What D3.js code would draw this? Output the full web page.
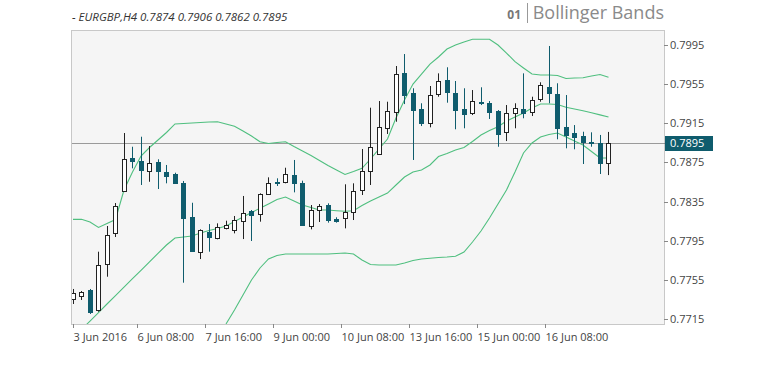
<!DOCTYPE html>
<html><head><meta charset="utf-8">
<script src="https://cdn.jsdelivr.net/npm/d3@7"></script>
<style>body{margin:0;background:#fff;overflow:hidden}text{font-family:"Open Sans",sans-serif}</style>
</head><body><svg id="c" width="766" height="365"></svg>
<script>
const title = "- EURGBP,H4 0.7874 0.7906 0.7862 0.7895";
const indicatorNo = "01";
const indicatorName = "Bollinger Bands";
const opens  = [0.77357,0.77387,0.77448,0.77245,0.77714,0.78029,0.78458,0.78797,0.78767,0.78662,0.78756,0.78654,0.78628,0.78542,0.7819,0.77839,0.78037,0.77975,0.78077,0.7806,0.78152,0.78254,0.78223,0.78427,0.78552,0.78546,0.78621,0.78542,0.78101,0.78264,0.78315,0.78169,0.78179,0.78247,0.78468,0.78662,0.78835,0.79097,0.79266,0.79657,0.79454,0.79294,0.79148,0.79446,0.79589,0.7946,0.79294,0.7925,0.79368,0.79352,0.79273,0.79062,0.7925,0.79297,0.79266,0.79396,0.79521,0.79446,0.79107,0.79046,0.79021,0.7896,0.78944,0.7874];
const highs  = [0.77459,0.77438,0.77459,0.77839,0.78101,0.78335,0.79049,0.78909,0.79011,0.78916,0.78781,0.78723,0.78644,0.7856,0.78338,0.78067,0.78121,0.78128,0.78155,0.78203,0.78407,0.78264,0.78434,0.78597,0.78587,0.78695,0.78774,0.78563,0.78315,0.78325,0.78332,0.7819,0.78526,0.78536,0.78886,0.79307,0.79375,0.79368,0.79732,0.79854,0.79505,0.79352,0.79528,0.79657,0.79719,0.79579,0.79505,0.79487,0.79515,0.79375,0.79283,0.79334,0.79352,0.79657,0.79419,0.79566,0.79936,0.79556,0.79436,0.7913,0.79062,0.79056,0.79029,0.7906];
const lows   = [0.77306,0.77347,0.77204,0.77227,0.77584,0.77989,0.78447,0.78689,0.78519,0.78552,0.78478,0.78536,0.78536,0.77523,0.77839,0.77764,0.77839,0.77965,0.78067,0.78026,0.77968,0.77948,0.78145,0.78417,0.78509,0.78536,0.78444,0.78101,0.78067,0.78142,0.78135,0.78135,0.78077,0.78162,0.78417,0.78519,0.78825,0.79039,0.79164,0.79344,0.78774,0.7912,0.79107,0.79419,0.79358,0.79087,0.79097,0.79232,0.79334,0.79192,0.78909,0.78967,0.79097,0.79199,0.79222,0.79368,0.79352,0.78985,0.78893,0.78883,0.78733,0.78909,0.78631,0.7862];
const closes = [0.77418,0.77428,0.77227,0.77703,0.78009,0.78305,0.78784,0.78767,0.78672,0.78746,0.78662,0.78614,0.78542,0.78185,0.77849,0.7806,0.77986,0.78088,0.78111,0.78162,0.78236,0.78213,0.78424,0.78542,0.78536,0.78628,0.78536,0.78111,0.78264,0.783,0.78162,0.78152,0.78247,0.78461,0.78662,0.78909,0.79107,0.79273,0.79647,0.79436,0.79283,0.79148,0.79436,0.79579,0.79464,0.79283,0.7924,0.79375,0.79352,0.79266,0.79039,0.7925,0.79307,0.7925,0.79385,0.79538,0.79454,0.79097,0.79029,0.79011,0.7896,0.78944,0.78746,0.7895];
const upperBand  = [0.78169,0.78169,0.78142,0.78086,0.78126,0.78167,0.78468,0.78651,0.78814,0.78901,0.78978,0.79054,0.79141,0.79146,0.79151,0.79156,0.79161,0.79164,0.79141,0.79117,0.79069,0.79018,0.7896,0.78942,0.78952,0.7896,0.78911,0.78865,0.7882,0.78769,0.78718,0.78672,0.78626,0.78656,0.78689,0.78784,0.78886,0.78988,0.79202,0.79385,0.79548,0.7965,0.79752,0.79824,0.79905,0.79946,0.79977,0.80004,0.80004,0.80004,0.79946,0.79864,0.79776,0.79712,0.7965,0.7964,0.7964,0.79635,0.79605,0.7961,0.79613,0.7963,0.79645,0.79617];
const middleBand = [0.76959,0.77046,0.77132,0.77219,0.77306,0.77391,0.77479,0.77564,0.77649,0.77736,0.77822,0.77907,0.77979,0.77989,0.77999,0.7803,0.78055,0.78075,0.78101,0.78147,0.78193,0.78239,0.78281,0.78325,0.78371,0.78397,0.78356,0.78315,0.78289,0.78264,0.78264,0.78257,0.78251,0.78257,0.7831,0.78356,0.78397,0.78437,0.78519,0.786,0.78651,0.78672,0.78723,0.78809,0.7884,0.78876,0.78901,0.78962,0.79029,0.79074,0.79113,0.79171,0.79212,0.79253,0.79304,0.79345,0.79345,0.79339,0.79311,0.79294,0.79276,0.79255,0.79234,0.79212];
const lowerBand  = [0.75749,0.75922,0.76123,0.76353,0.76485,0.76616,0.7649,0.76476,0.76484,0.76572,0.76666,0.7676,0.76816,0.76832,0.76847,0.76903,0.76949,0.76987,0.77102,0.77245,0.77398,0.7755,0.77673,0.77765,0.778,0.77815,0.77815,0.77815,0.77815,0.77815,0.77815,0.7782,0.77826,0.77815,0.77754,0.77708,0.77703,0.77703,0.77703,0.77724,0.77749,0.77765,0.77772,0.7778,0.77785,0.77792,0.77836,0.77938,0.7805,0.78182,0.78325,0.78468,0.78651,0.78845,0.78947,0.79008,0.79034,0.79049,0.79008,0.78967,0.78927,0.7886,0.78794,0.78794];
const yTicks = [0.7715,0.7755,0.7795,0.7835,0.7875,0.7915,0.7955,0.7995];
const xTickIdx = [0,7.5,15.5,23.5,31.5,39.5,47.5,55.5];
const xTickLabels = ["3 Jun 2016","6 Jun 08:00","7 Jun 16:00","9 Jun 00:00","10 Jun 08:00","13 Jun 16:00","15 Jun 00:00","16 Jun 08:00"];
const lastPrice = 0.7895;

const L=71, R=664, T=30, B=324;
const TEAL="#0f5c6d", GREEN="#4fbf7f";
const svg=d3.select("#c");
const x=d3.scaleLinear().domain([-0.235,69.53]).range([L,R]);
const y=d3.scaleLinear().domain([0.77102,0.80099]).range([B,T]);
const idx=d3.range(opens.length);

svg.append("defs").append("clipPath").attr("id","clip").append("rect")
  .attr("x",L+1).attr("y",T+1).attr("width",R-L-1).attr("height",B-T-1);
svg.append("rect").attr("x",L+0.5).attr("y",T+0.5).attr("width",R-L).attr("height",B-T)
  .attr("fill","#f5f5f5").attr("stroke","#c8c8c8");

const g=svg.append("g").attr("clip-path","url(#clip)");
// current price line
g.append("line").attr("x1",L).attr("x2",R)
  .attr("y1",Math.round(y(lastPrice))+0.5).attr("y2",Math.round(y(lastPrice))+0.5)
  .attr("stroke","#9a9a9a").attr("stroke-width",1);

const line=d3.line().x(i=>x(i)).y((i,k,a)=>0);
[upperBand,middleBand,lowerBand].forEach(band=>{
  g.append("path").datum(idx)
    .attr("d",d3.line().x(i=>x(i)).y(i=>y(band[i])))
    .attr("fill","none").attr("stroke",GREEN).attr("stroke-width",1.1);
});

const c=g.selectAll("g.c").data(idx).join("g");
c.each(function(i){
  const s=d3.select(this);
  const cx=Math.round(x(i));
  const up=closes[i]>=opens[i];
  const col=up?"#222":TEAL;
  s.append("line").attr("x1",cx+0.5).attr("x2",cx+0.5)
    .attr("y1",y(highs[i])).attr("y2",y(lows[i])).attr("stroke",col).attr("stroke-width",1);
  const top=Math.round(y(Math.max(opens[i],closes[i])));
  const bot=Math.round(y(Math.min(opens[i],closes[i])));
  s.append("rect").attr("x",cx-1.5).attr("y",top+0.5).attr("width",4).attr("height",Math.max(1,bot-top))
    .attr("fill",up?"#fff":TEAL).attr("stroke",col).attr("stroke-width",1);
});

// y axis
yTicks.forEach(v=>{
  const yy=Math.round(y(v))+0.5;
  svg.append("line").attr("x1",R).attr("x2",R+4).attr("y1",yy).attr("y2",yy).attr("stroke","#888");
  svg.append("text").attr("x",R+6).attr("y",yy).attr("dy","0.35em")
    .attr("font-size",11).attr("fill","#444").text(v.toFixed(4));
});
// price label
const py=Math.round(y(lastPrice));
svg.append("line").attr("x1",R).attr("x2",R+4).attr("y1",py+0.5).attr("y2",py+0.5).attr("stroke","#888");
svg.append("rect").attr("x",R+1).attr("y",py-7).attr("width",48).attr("height",15).attr("fill",TEAL);
svg.append("text").attr("x",R+6).attr("y",py+0.5).attr("dy","0.35em")
  .attr("font-size",11).attr("fill","#fff").text(lastPrice.toFixed(4));

// x axis
xTickIdx.forEach((v,k)=>{
  const xx=Math.round(x(v))+0.5;
  svg.append("line").attr("x1",xx).attr("x2",xx).attr("y1",B).attr("y2",B+4).attr("stroke","#888");
  svg.append("text").attr("x",xx).attr("y",B+17).attr("font-size",11).attr("fill","#444").text(xTickLabels[k]);
});

// titles
svg.append("text").attr("x",72).attr("y",21).attr("font-size",11.5).attr("font-style","italic")
  .attr("fill","#333").text(title);
svg.append("text").attr("x",R).attr("y",19).attr("text-anchor","end").attr("font-size",18)
  .attr("fill","#8a8a8a").text(indicatorName);
svg.append("line").attr("x1",527.5).attr("x2",527.5).attr("y1",3).attr("y2",23).attr("stroke","#999");
svg.append("text").attr("x",521).attr("y",19).attr("text-anchor","end").attr("font-size",12)
  .attr("font-weight","bold").attr("fill","#777").text(indicatorNo);
</script></body></html>
